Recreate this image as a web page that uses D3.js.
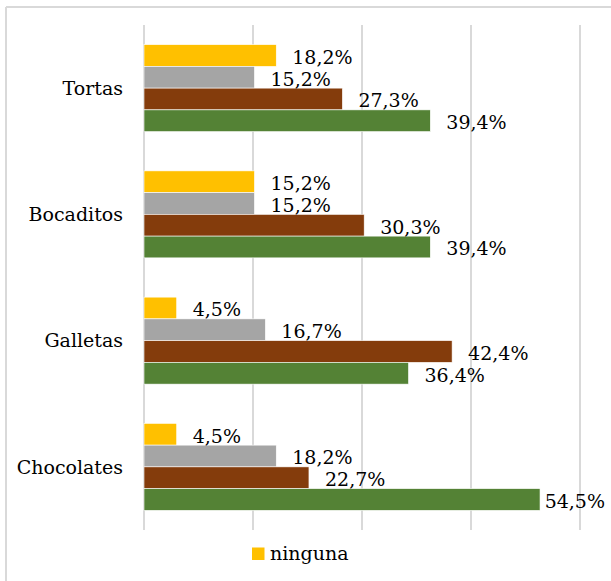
<!DOCTYPE html>
<html><head><meta charset="utf-8">
<script src="https://cdn.jsdelivr.net/npm/d3@7"></script>
<style>
html,body{margin:0;padding:0;background:#fff;}
svg{display:block;}
svg text{font-family:"DejaVu Serif","Liberation Serif","Noto Serif","Times New Roman",Times,serif;}
</style>
</head><body>
<svg id="c" width="611" height="581"></svg>
<script>
const categories = ["Tortas", "Bocaditos", "Galletas", "Chocolates"];
const seriesNames = ["ninguna", "serie 2", "serie 3", "serie 4"];
const seriesColors = ["#FFC000", "#A5A5A5", "#843C0C", "#548235"];
const ninguna = [18.2, 15.2, 4.5, 4.5];
const serie2 = [15.2, 15.2, 16.7, 18.2];
const serie3 = [27.3, 30.3, 42.4, 22.7];
const serie4 = [39.4, 39.4, 36.4, 54.5];
const xTicks = [0, 15, 30, 45, 60];
const legendItems = ["ninguna"];

const seriesValues = [ninguna, serie2, serie3, serie4];
const fmt = v => d3.format(".1f")(v).replace(".", ",") + "%";

const svg = d3.select("#c");
const fs = 19;

// outer frame (top + left visible)
svg.append("line").attr("x1", 6).attr("x2", 611).attr("y1", 7).attr("y2", 7)
  .attr("stroke", "#d9d9d9").attr("stroke-width", 2);
svg.append("line").attr("x1", 6).attr("x2", 6).attr("y1", 7).attr("y2", 581)
  .attr("stroke", "#d9d9d9").attr("stroke-width", 2);

const x = d3.scaleLinear().domain([0, 60]).range([144, 580]);
const y = d3.scaleBand().domain(categories).range([25, 530]).paddingInner(0.311).paddingOuter(0.1555);
const ys = d3.scaleBand().domain(seriesNames).range([0, y.bandwidth()]);

// gridlines
svg.append("g").selectAll("line").data(xTicks).join("line")
  .attr("x1", d => x(d)).attr("x2", d => x(d))
  .attr("y1", 25).attr("y2", 530)
  .attr("stroke", "#d9d9d9").attr("stroke-width", 2);

// bars
const rows = [];
categories.forEach((c, ci) => {
  seriesNames.forEach((s, si) => {
    rows.push({cat: c, series: s, si, value: seriesValues[si][ci]});
  });
});

const g = svg.append("g");
g.selectAll("rect").data(rows).join("rect")
  .attr("x", x(0))
  .attr("y", d => y(d.cat) + ys(d.series))
  .attr("width", d => x(d.value) - x(0))
  .attr("height", ys.bandwidth())
  .attr("fill", d => seriesColors[d.si])
  .attr("stroke", "#ffffff").attr("stroke-width", 0.6);

// labels
g.selectAll("text.lbl").data(rows).join("text")
  .attr("class", "lbl")
  .style("font-size", fs + "px").attr("fill", "#000")
  .attr("y", d => y(d.cat) + ys(d.series) + ys.bandwidth() - 2.5)
  .text(d => fmt(d.value))
  .each(function(d) {
    const w = this.getComputedTextLength();
    const px = Math.min(x(d.value) + 16, 605 - w);
    d3.select(this).attr("x", px);
  });

// category labels
svg.append("g").selectAll("text").data(categories).join("text")
  .attr("x", 123)
  .attr("y", d => y(d) + y.bandwidth() / 2)
  .attr("dy", "0.35em")
  .attr("text-anchor", "end")
  .style("font-size", fs + "px").attr("fill", "#000")
  .text(d => d);

// legend
const lg = svg.append("g");
legendItems.forEach((name, i) => {
  const si = seriesNames.indexOf(name);
  lg.append("rect").attr("x", 252).attr("y", 547.5).attr("width", 12.5).attr("height", 12.5)
    .attr("fill", seriesColors[si]);
  lg.append("text").attr("x", 270).attr("y", 560)
    .style("font-size", fs + "px").attr("fill", "#000")
    .text(name);
});
</script>
</body></html>
